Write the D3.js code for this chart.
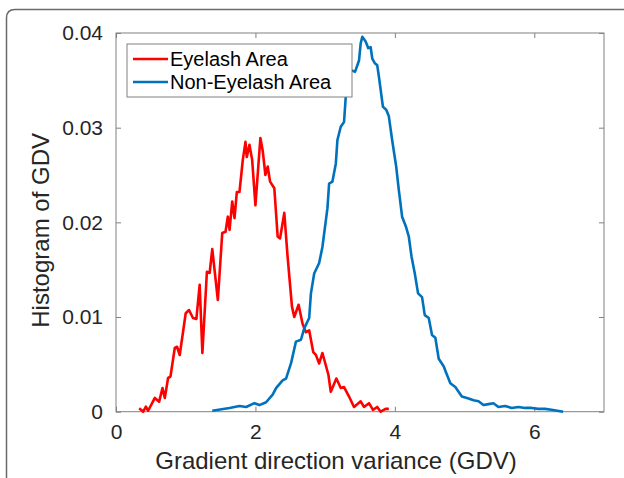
<!DOCTYPE html>
<html>
<head>
<meta charset="utf-8">
<script src="https://cdn.jsdelivr.net/npm/d3@7"></script>
<style>
  body { margin: 0; background: #fff; }
  svg { display: block; font-family: "Liberation Sans", Arial, Helvetica, sans-serif; }
  .axis text { fill: #262626; font-size: 21px; }
  .axis line, .axis path { stroke: #808080; }
</style>
</head>
<body>
<div id="chart"></div>
<script>
// histogram of GDV, eyelash vs non-eyelash
const eyelashX = [0.333, 0.39, 0.429, 0.461, 0.557, 0.619, 0.667, 0.7, 0.747, 0.781, 0.843, 0.876, 0.914, 1.0, 1.047, 1.104, 1.153, 1.2, 1.239, 1.304, 1.343, 1.381, 1.414, 1.461, 1.524, 1.571, 1.604, 1.629, 1.667, 1.7, 1.733, 1.771, 1.819, 1.857, 1.876, 1.914, 1.953, 2.0, 2.071, 2.104, 2.143, 2.176, 2.21, 2.271, 2.319, 2.353, 2.414, 2.461, 2.524, 2.557, 2.619, 2.676, 2.724, 2.771, 2.829, 2.867, 2.914, 2.961, 3.047, 3.081, 3.161, 3.224, 3.271, 3.343, 3.414, 3.51, 3.557, 3.629, 3.686, 3.747, 3.796, 3.867, 3.914];
const eyelashY = [0.00036, 0, 0.00053, 0.0001, 0.00145, 0.00106, 0.0025, 0.00145, 0.00356, 0.0037, 0.00673, 0.00686, 0.00599, 0.0104, 0.01074, 0.0099, 0.0098, 0.0134, 0.0062, 0.01478, 0.01465, 0.01718, 0.01496, 0.0118, 0.01887, 0.019, 0.0206, 0.0192, 0.0222, 0.02045, 0.0232, 0.0232, 0.0266, 0.0285, 0.0269, 0.0282, 0.0266, 0.0218, 0.0289, 0.0276, 0.025, 0.0259, 0.0243, 0.0236, 0.0185, 0.0183, 0.021, 0.0164, 0.0111, 0.01, 0.0113, 0.0093, 0.0084, 0.0086, 0.0063, 0.006, 0.0051, 0.0062, 0.0039, 0.0021, 0.0035, 0.0025, 0.0026, 0.0016, 0.0005, 0.0011, 0.0005, 0.0009, 0.0002, 0.0005, 0, 0.0003, 0.0003];

const nonEyelashX = [1.381, 1.629, 1.771, 1.867, 1.986, 2.057, 2.153, 2.247, 2.296, 2.39, 2.439, 2.51, 2.581, 2.653, 2.7, 2.771, 2.796, 2.843, 2.914, 2.961, 3.033, 3.057, 3.104, 3.153, 3.176, 3.224, 3.271, 3.296, 3.319, 3.367, 3.429, 3.486, 3.51, 3.533, 3.581, 3.619, 3.653, 3.676, 3.714, 3.747, 3.771, 3.829, 3.876, 3.914, 3.961, 4.019, 4.057, 4.104, 4.161, 4.2, 4.239, 4.286, 4.333, 4.39, 4.429, 4.486, 4.533, 4.581, 4.629, 4.7, 4.747, 4.796, 4.867, 4.961, 5.057, 5.129, 5.2, 5.271, 5.343, 5.414, 5.486, 5.581, 5.676, 5.771, 5.867, 5.961, 6.057, 6.153, 6.247, 6.414];
const nonEyelashY = [0.0001, 0.0004, 0.0006, 0.0005, 0.0009, 0.0007, 0.001, 0.0018, 0.0025, 0.0033, 0.0035, 0.0051, 0.0074, 0.0076, 0.0088, 0.0099, 0.0125, 0.0146, 0.0157, 0.0174, 0.0215, 0.0241, 0.0243, 0.0262, 0.0287, 0.0301, 0.0306, 0.0333, 0.0361, 0.0361, 0.0359, 0.0371, 0.0389, 0.0396, 0.0391, 0.0384, 0.0385, 0.0373, 0.0368, 0.0366, 0.0354, 0.0322, 0.0319, 0.0312, 0.0287, 0.0259, 0.0234, 0.0206, 0.0195, 0.0185, 0.0164, 0.0146, 0.0125, 0.0121, 0.0102, 0.0099, 0.0081, 0.0078, 0.0056, 0.0048, 0.0039, 0.003, 0.0026, 0.0016, 0.0014, 0.0012, 0.0011, 0.0007, 0.0008, 0.0009, 0.0005, 0.0006, 0.0004, 0.0005, 0.0004, 0.0004, 0.0003, 0.0003, 0.0002, 0];

const seriesNames = ["Eyelash Area", "Non-Eyelash Area"];
const seriesColors = ["#ff0000", "#0072bd"];
const xTicks = [0, 2, 4, 6];
const yTicks = [0, 0.01, 0.02, 0.03, 0.04];

const W = 624, H = 478;
const margin = { top: 33, right: 20, bottom: 66.3, left: 116 },
    width = W - margin.left - margin.right,
    height = H - margin.top - margin.bottom;

const svgRoot = d3.select("#chart").append("svg")
    .attr("width", W)
    .attr("height", H);

// figure frame (rounded top-left corner, runs off the right and bottom)
svgRoot.append("path")
    .attr("d", "M6.5,490 L6.5,18 Q6.5,9.5 15,9.5 L640,9.5")
    .attr("fill", "none")
    .attr("stroke", "#6a6a6a")
    .attr("stroke-width", 1.5);

const svg = svgRoot.append("g")
    .attr("transform", `translate(${margin.left},${margin.top})`);

const x = d3.scaleLinear().domain([0, 7]).range([0, width]);
const y = d3.scaleLinear().domain([0, 0.04]).range([height, 0]);

// box
svg.append("rect")
    .attr("width", width).attr("height", height)
    .attr("fill", "none").attr("stroke", "#808080").attr("stroke-width", 1);

// ticks on all four sides, pointing in
svg.append("g").attr("class", "axis")
    .attr("transform", `translate(0,${height})`)
    .call(d3.axisBottom(x).tickValues(xTicks).tickSizeInner(-5).tickSizeOuter(0).tickPadding(12).tickFormat(d3.format("d")))
    .call(g => g.select(".domain").remove())
    .call(g => g.selectAll("text").attr("dy", "0.71em"));
svg.append("g").attr("class", "axis")
    .call(d3.axisTop(x).tickValues(xTicks).tickSizeInner(-5).tickSizeOuter(0).tickFormat(""))
    .call(g => g.select(".domain").remove());
svg.append("g").attr("class", "axis")
    .call(d3.axisLeft(y).tickValues(yTicks).tickSizeInner(-5).tickSizeOuter(0).tickPadding(13).tickFormat(d => d === 0 ? "0" : d3.format(".2f")(d)))
    .call(g => g.select(".domain").remove());
svg.append("g").attr("class", "axis")
    .attr("transform", `translate(${width},0)`)
    .call(d3.axisRight(y).tickValues(yTicks).tickSizeInner(-5).tickSizeOuter(0).tickFormat(""))
    .call(g => g.select(".domain").remove());

// curves
const line = d3.line().x(d => x(d[0])).y(d => y(d[1]));
const series = [
    d3.zip(eyelashX, eyelashY),
    d3.zip(nonEyelashX, nonEyelashY)
];
series.forEach((pts, i) => {
    svg.append("path")
        .datum(pts)
        .attr("d", line)
        .attr("fill", "none")
        .attr("stroke", seriesColors[i])
        .attr("stroke-width", 2.6)
        .attr("stroke-linejoin", "round");
});

// axis titles
svg.append("text")
    .attr("x", 220).attr("y", height + 57)
    .attr("text-anchor", "middle")
    .attr("fill", "#262626")
    .style("font-size", "24px")
    .text("Gradient direction variance (GDV)");
svg.append("text")
    .attr("transform", `translate(${-67},${height / 2 + 8}) rotate(-90)`)
    .attr("text-anchor", "middle")
    .attr("fill", "#262626")
    .style("font-size", "24px")
    .text("Histogram of GDV");

// legend
const lg = svg.append("g").attr("transform", "translate(11,11)");
lg.append("rect")
    .attr("width", 225).attr("height", 53)
    .attr("fill", "#fff").attr("stroke", "#808080").attr("stroke-width", 1);
seriesNames.forEach((name, i) => {
    const yy = 15 + i * 23;
    lg.append("line")
        .attr("x1", 6).attr("x2", 41).attr("y1", yy).attr("y2", yy)
        .attr("stroke", seriesColors[i]).attr("stroke-width", 2.6);
    lg.append("text")
        .attr("x", 43).attr("y", yy).attr("dy", "0.35em")
        .attr("fill", "#000")
        .style("font-size", "20px")
        .text(name);
});
</script>
</body>
</html>
